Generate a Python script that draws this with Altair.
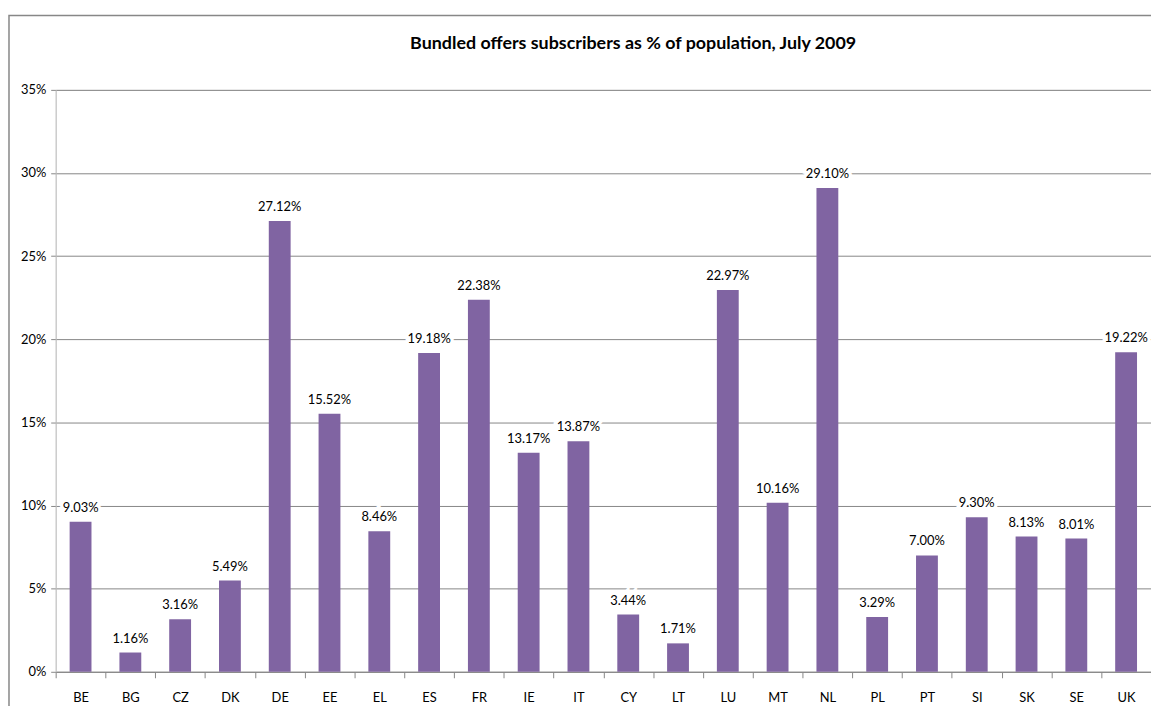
import altair as alt
import pandas as pd

countries = ["BE", "BG", "CZ", "DK", "DE", "EE", "EL", "ES", "FR", "IE", "IT",
             "CY", "LT", "LU", "MT", "NL", "PL", "PT", "SI", "SK", "SE", "UK"]
values = [9.03, 1.16, 3.16, 5.49, 27.12, 15.52, 8.46, 19.18, 22.38, 13.17, 13.87,
          3.44, 1.71, 22.97, 10.16, 29.10, 3.29, 7.00, 9.30, 8.13, 8.01, 19.22]
y_ticks = [0, 5, 10, 15, 20, 25, 30, 35]
title_text = "Bundled offers subscribers as % of population, July 2009"

df = pd.DataFrame({
    "country": countries,
    "value": values,
    "label": [f"{v:.2f}%" for v in values],
})

W = 1103
H = 586
FONT = "Lato"
GRID = "#868686"
FS = 13

xscale = alt.Scale(domain=countries, paddingInner=0, paddingOuter=0)
yscale = alt.Scale(domain=[0, 35], nice=False)

base = alt.Chart(df)

bars = base.mark_bar(size=22, color="#8064A2").encode(
    x=alt.X("country:N", sort=countries, scale=xscale,
            axis=alt.Axis(title=None, labelAngle=0, tickBand="extent",
                          ticks=True, tickSize=6, tickColor=GRID,
                          domainColor=GRID, labelPadding=14,
                          labelFont=FONT, labelFontSize=FS, labelColor="#000000",
                          grid=False)),
    y=alt.Y("value:Q", scale=yscale,
            axis=alt.Axis(title=None, values=y_ticks,
                          labelExpr="datum.value + '%'",
                          grid=True, gridColor=GRID, gridWidth=1,
                          tickSize=5, tickColor=GRID,
                          domainColor="#BFBFBF", labelPadding=5,
                          labelFont=FONT, labelFontSize=FS, labelColor="#000000")),
)

halo = base.mark_text(baseline="bottom", dy=-7, font=FONT, fontSize=FS,
                      stroke="white", strokeWidth=7, color="white").encode(
    x=alt.X("country:N", sort=countries, scale=xscale),
    y=alt.Y("value:Q", scale=yscale),
    text="label:N",
)

text = base.mark_text(baseline="bottom", dy=-7, font=FONT, fontSize=FS,
                      color="#000000").encode(
    x=alt.X("country:N", sort=countries, scale=xscale),
    y=alt.Y("value:Q", scale=yscale),
    text="label:N",
)

frame = alt.Chart(pd.DataFrame({"f": [0]})).mark_rect(
    fillOpacity=0, stroke="#878787", strokeWidth=1.5
).encode(
    x=alt.value(-47), x2=alt.value(1300),
    y=alt.value(-75), y2=alt.value(800),
)

chart = alt.layer(bars, halo, text, frame).properties(
    width=W,
    height=H,
    autosize=alt.AutoSizeParams(type="none"),
    padding={"left": 48, "top": 80, "right": 0, "bottom": 32},
    title=alt.Title(title_text, font=FONT, fontSize=18, fontWeight="bold",
                    color="#000000", anchor="middle", dx=30, offset=0, dy=39),
).configure_view(stroke=None).configure(background="white")

chart.save("out.html", embed_options={"renderer": "svg", "actions": False})
